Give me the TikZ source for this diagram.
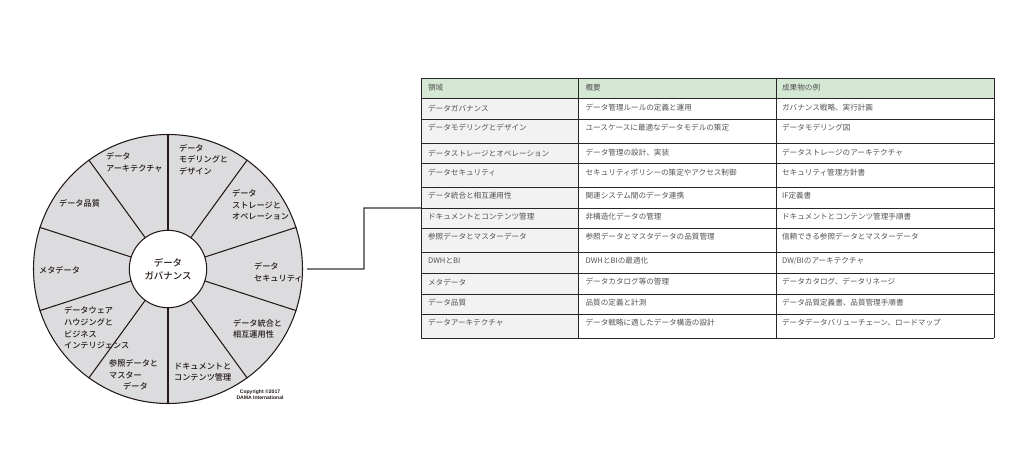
\documentclass[tikz,border=0pt]{standalone}
\usepackage{fontspec}
\setmainfont{Noto Sans CJK JP}[BoldFont={Noto Sans CJK JP Medium}]
\newfontfamily\copyfont{Liberation Sans}
\usetikzlibrary{calc}
\definecolor{wheelgray}{HTML}{DCDCDF}
\definecolor{headgreen}{HTML}{D5E8D4}
\definecolor{rowgray}{HTML}{F2F2F2}
\definecolor{inkdark}{HTML}{231815}
\tikzset{
  sectorline/.style={draw=inkdark, line width=1.5pt},
  sectorlabel/.style={anchor=west, align=left, inner sep=0pt, text=inkdark, font=\fontsize{11.6}{16.6}\selectfont\bfseries},
  tablelabel/.style={anchor=west, inner sep=0pt, text=black!68, font=\fontsize{10.8}{12}\selectfont},
  tableline/.style={draw=black!85, line width=1.4pt},
  linkline/.style={draw=black!80, line width=1.7pt},
}
\begin{document}
\begin{tikzpicture}[x=0.05cm, y=-0.05cm]
  \useasboundingbox (0,0) rectangle (1024,469);
  % Wheel
  \node[circle, draw=inkdark, fill=wheelgray, line width=1.5pt, minimum size=13.45cm, inner sep=0pt] (wheel) at (168,269) {};
  \foreach \a in {18, 54, 90, 126, 162, 198, 234, 270, 306, 342} {
    \draw[sectorline] ($(wheel.center)+(\a:38 and -38)$) -- (wheel.\a);
  }
  \node[circle, draw=inkdark, fill=white, line width=1.5pt, minimum size=3.87cm, inner sep=0pt, align=center,
    font=\fontsize{13.4}{18}\selectfont\bfseries, text=inkdark] (hub) at (wheel.center) {データ\\ガバナンス};
  % Wheel labels
  \node[sectorlabel] (arch) at (106,162.5) {データ\\アーキテクチャ};
  \node[sectorlabel] (model) at (179,159.5) {データ\\モデリングと\\デザイン};
  \node[sectorlabel] (storage) at (232,205) {データ\\ストレージと\\オペレーション};
  \node[sectorlabel] (security) at (254,272) {データ\\セキュリティ};
  \node[sectorlabel] (integ) at (233,329) {データ統合と\\相互運用性};
  \node[sectorlabel] (docs) at (174,372) {ドキュメントと\\コンテンツ管理};
  \node[sectorlabel] (refdata) at (109,375) {参照データと\\マスター\\\hspace*{20pt}データ};
  \node[sectorlabel] (dwh) at (64,328) {データウェア\\ハウジングと\\ビジネス\\インテリジェンス};
  \node[sectorlabel] (meta) at (39,270) {メタデータ};
  \node[sectorlabel] (quality) at (59,203) {データ品質};
  \node[align=center, inner sep=0pt, text=inkdark, font=\copyfont\fontsize{7.2}{9}\selectfont\bfseries] (copy) at (260,395) {Copyright ©2017\\DAMA International};
  % Table fills
  \fill[headgreen] (421,78) rectangle (994,98);
  \fill[rowgray] (421,98) rectangle (578,338);
  % Table rules
  \foreach \y in {78, 98, 119, 143, 163, 187, 208, 228, 252, 273, 294, 314, 338} {
    \draw[tableline] (421,\y) -- (994,\y);
  }
  \foreach \x in {421, 578, 776, 994} {
    \draw[tableline] (\x,78) -- (\x,338);
  }
  % Table text
  \foreach \n/\y/\a/\b/\c in {
    0/88/領域/概要/成果物の例,
    1/108/データガバナンス/データ管理ルールの定義と運用/ガバナンス戦略、実行計画,
    2/128/データモデリングとデザイン/ユースケースに最適なデータモデルの策定/データモデリング図,
    3/153/データストレージとオペレーション/データ管理の設計、実装/データストレージのアーキテクチャ,
    4/173/データセキュリティ/セキュリティポリシーの策定やアクセス制御/セキュリティ管理方針書,
    5/196/データ統合と相互運用性/関連システム間のデータ連携/IF定義書,
    6/217/ドキュメントとコンテンツ管理/非構造化データの管理/ドキュメントとコンテンツ管理手順書,
    7/237/参照データとマスターデータ/参照データとマスタデータの品質管理/信頼できる参照データとマスターデータ,
    8/261/DWHとBI/DWHとBIの最適化/{DW/BIのアーキテクチャ},
    9/282/メタデータ/データカタログ等の管理/データカタログ、データリネージ,
    10/303/データ品質/品質の定義と計測/データ品質定義書、品質管理手順書,
    11/323/データアーキテクチャ/データ戦略に適したデータ構造の設計/データデータバリューチェーン、ロードマップ} {
    \node[tablelabel] (r\n a) at (428,\y) {\a};
    \node[tablelabel] (r\n b) at (585.5,\y) {\b};
    \node[tablelabel] (r\n c) at (782,\y) {\c};
  }
  % Link from wheel to table
  \coordinate (linkstart) at ($(wheel.east)+(4,0)$);
  \coordinate (linkend) at (421,208);
  \draw[linkline] (linkstart) -- ($(linkstart)!0.5!(linkstart-|linkend)$) |- (linkend);
\end{tikzpicture}
\end{document}
